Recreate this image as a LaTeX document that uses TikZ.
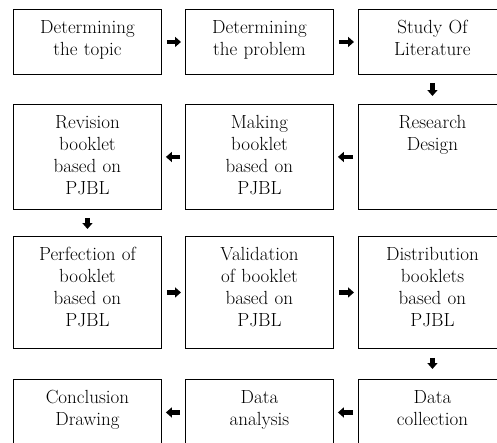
\documentclass[tikz,border=0pt]{standalone}
\usetikzlibrary{arrows.meta}

\tikzset{
  stagebox/.style={draw,line width=0.9pt,anchor=north west,inner sep=0pt,
    text width=148pt,align=center,text height=24.5pt,
    font=\fontsize{19}{22}\selectfont},
  flow/.style={line width=4.5pt,-{Triangle[length=6pt,width=10pt]}},
  hflow/.style={flow,shorten <=5pt,shorten >=4pt},
  vflow/.style={flow,shorten <=8pt,shorten >=8pt}
}

\begin{document}
\begin{tikzpicture}[x=1pt,y=-1pt]
  \clip (0,0) rectangle (497,442);

  % row 1
  \node[stagebox,text depth=40.5pt] (topic) at (13,9) {Determining\\the topic};
  \node[stagebox,text depth=40.5pt] (problem) at (185,9) {Determining\\the problem};
  \node[stagebox,text depth=40.5pt] (literature) at (358,9) {Study Of\\Literature};

  % row 2
  \node[stagebox,text depth=80.5pt] (revision) at (13,104) {Revision\\booklet\\based on\\PJBL};
  \node[stagebox,text depth=80.5pt] (making) at (185,104) {Making\\booklet\\based on\\PJBL};
  \node[stagebox,text depth=80.5pt] (design) at (358,104) {Research\\Design};

  % row 3
  \node[stagebox,text depth=87.5pt] (perfection) at (13,236) {Perfection of\\booklet\\based on\\PJBL};
  \node[stagebox,text depth=87.5pt] (validation) at (185,236) {Validation\\of booklet\\based on\\PJBL};
  \node[stagebox,text depth=87.5pt] (distribution) at (358,236) {Distribution\\booklets\\based on\\PJBL};

  % row 4
  \node[stagebox,text depth=41.5pt] (conclusion) at (13,379) {Conclusion\\Drawing};
  \node[stagebox,text depth=41.5pt] (analysis) at (185,379) {Data\\analysis};
  \node[stagebox,text depth=41.5pt] (collection) at (358,379) {Data\\collection};

  \draw[hflow] (topic) -- (problem);
  \draw[hflow] (problem) -- (literature);
  \draw[vflow] (literature) -- (design);
  \draw[hflow] (design) -- (making);
  \draw[hflow] (making) -- (revision);
  \draw[vflow,shorten >=7pt] (revision) -- (perfection);
  \draw[hflow] (perfection) -- (validation);
  \draw[hflow] (validation) -- (distribution);
  \draw[vflow,shorten <=9pt,shorten >=10pt] (distribution) -- (collection);
  \draw[hflow] (collection) -- (analysis);
  \draw[hflow] (analysis) -- (conclusion);
\end{tikzpicture}
\end{document}
